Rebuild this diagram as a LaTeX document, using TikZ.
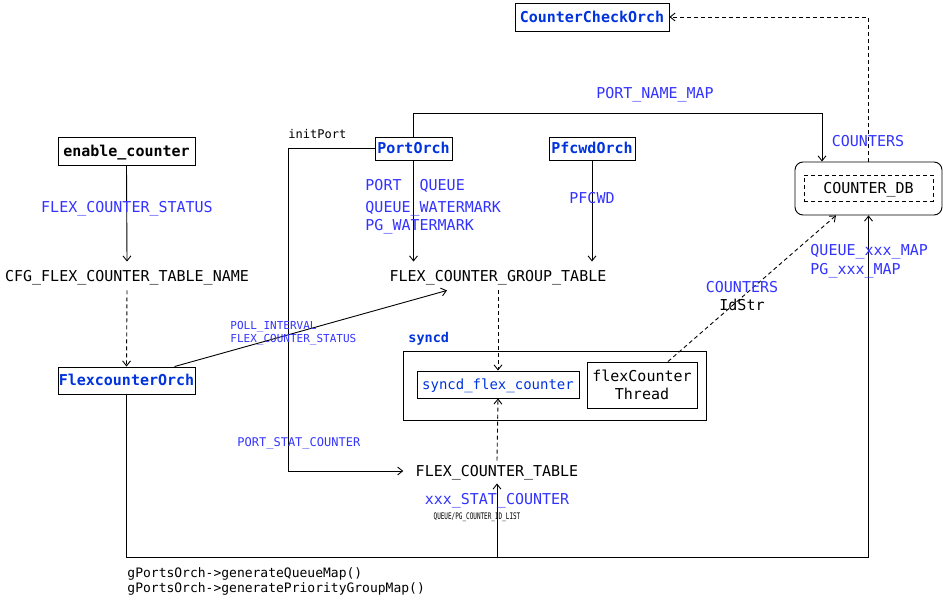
\documentclass[tikz,border=0pt]{standalone}
\usepackage{fontspec}
\usepackage{graphicx}
\setmainfont{DejaVu Sans Mono}
\usetikzlibrary{arrows.meta}
\definecolor{lblue}{RGB}{51,51,255}
\definecolor{nblue}{RGB}{0,51,221}
\begin{document}
\begin{tikzpicture}[x=1pt,y=-1pt,line width=0.9pt,
  fs/.style={font=\fontsize{#1}{#1}\selectfont,text height=0.73*#1pt,text depth=0pt},
  arr/.style={-{Straight Barb[length=5pt,width=8pt,line width=0.9pt]}},
  obox/.style={draw,inner sep=0pt,align=center},
  bbox/.style={obox,fs=15,font=\fontsize{15}{17}\selectfont\bfseries,text=nblue},
  tbl/.style={inner sep=0pt,fs=15},
  lbl/.style={inner sep=0pt,fs=15,text=lblue},
  slbl/.style={inner sep=0pt,text=lblue},
  dsh/.style={dashed,dash pattern=on 4pt off 3pt}]
\useasboundingbox (0,0) rectangle (943,601);
% boxes
\node[bbox,minimum width=154pt,minimum height=28pt] (cco) at (592,17) {CounterCheckOrch};
\node[obox,fs=15,font=\fontsize{15}{17}\selectfont\bfseries,minimum width=137pt,minimum height=28pt] (ec) at (126.5,151) {enable\_counter};
\node[bbox,minimum width=137pt,minimum height=27pt] (fco) at (126.5,380.5) {FlexcounterOrch};
\node[bbox,minimum width=77pt,minimum height=23pt] (po) at (413.5,148.5) {PortOrch};
\node[bbox,minimum width=86pt,minimum height=23pt] (pw) at (592,148.5) {PfcwdOrch};
\node[draw,rounded corners=8pt,minimum width=147pt,minimum height=53pt] (cdb) at (868.5,188.5) {};
\node[draw,dsh,inner sep=0pt,minimum width=129pt,minimum height=26pt,fs=15] (cdbi) at (868.5,188) {COUNTER\_DB};
\node[draw,minimum width=303pt,minimum height=69pt] (sy) at (554.5,385.5) {};
\node[obox,fs=14,text=nblue,minimum width=162pt,minimum height=27pt] (sfc) at (498,384.5) {syncd\_flex\_counter};
\node[obox,font=\fontsize{15}{18}\selectfont,minimum width=110pt,minimum height=46pt] (fct) at (642,385) {flexCounter\\Thread};
% tables
\node[tbl,minimum height=28pt] (cfg) at (127,276) {CFG\_FLEX\_COUNTER\_TABLE\_NAME};
\node[tbl,minimum height=28pt] (fcgt) at (498,276) {FLEX\_COUNTER\_GROUP\_TABLE};
\node[tbl,inner xsep=12pt,minimum height=24pt] (fctab) at (497,471) {FLEX\_COUNTER\_TABLE};
% connectors
\draw[arr] (ec.south) -- (cfg.north);
\draw[arr,dsh] (cfg.south) -- (fco.north);
\draw[arr] ([xshift=48pt]fco.north) -- ([xshift=-51pt]fcgt.south);
\draw[arr] (po.north) -- ++(0,-23) -| ([xshift=-46.5pt]cdb.north);
\draw[arr] (po.west) -- ++(-86,0) |- (fctab.west);
\draw[arr] (po.south) -- (po.south |- fcgt.north);
\draw[arr] (pw.south) -- (pw.south |- fcgt.north);
\draw[arr,dsh] (fcgt.south) -- (sfc.north);
\draw[arr,dsh] ([yshift=-2pt]fctab.north) -- (sfc.south);
\coordinate (bot) at (498,557);
\draw[arr] (fco.south) |- (cdb.south |- bot) -- (cdb.south);
\draw[arr] (fctab.south |- bot) -- (fctab.south);
\draw[arr,dsh] ([xshift=26pt]fct.north) -- ([xshift=-32.5pt]cdb.south);
\draw[arr,dsh] (cdb.north) |- (cco.east);
% labels
\node[lbl] (l1) at (655,93) {PORT\_NAME\_MAP};
\node[lbl] (l2) at (868,141) {COUNTERS};
\node[lbl] (l3) at (127,207) {FLEX\_COUNTER\_STATUS};
\node[lbl,anchor=west] (l4) at (365,185) {PORT\ \ QUEUE};
\node[lbl,anchor=west] (l5) at (365,207) {QUEUE\_WATERMARK};
\node[lbl,anchor=west] (l6) at (365,225) {PG\_WATERMARK};
\node[lbl] (l7) at (592,198) {PFCWD};
\node[lbl,anchor=west] (l8) at (810,250) {QUEUE\_xxx\_MAP};
\node[lbl,anchor=west] (l9) at (810,269) {PG\_xxx\_MAP};
\node[lbl] (l10) at (742,287) {COUNTERS};
\node[tbl] (l11) at (742,305) {IdStr};
\node[slbl,fs=11,anchor=west] (l12) at (230,325) {POLL\_INTERVAL};
\node[slbl,fs=11,anchor=west] (l13) at (230,338) {FLEX\_COUNTER\_STATUS};
\node[slbl,fs=12,anchor=west] (l14) at (237,442) {PORT\_STAT\_COUNTER};
\node[inner sep=0pt,fs=12,anchor=west] (l15) at (288,134) {initPort};
\node[inner sep=0pt,anchor=west,fs=13.5,font=\fontsize{13.5}{15}\selectfont\bfseries,text=nblue] (l16) at (408,338) {syncd};
\node[lbl] (l17) at (497,499) {xxx\_STAT\_COUNTER};
\node[inner sep=0pt,font=\fontsize{6}{6}\selectfont] (l18) at (477,517) {\scalebox{1}[1.5]{QUEUE/PG\_COUNTER\_ID\_LIST}};
\node[inner sep=0pt,fs=13,anchor=west] (l19) at (127,573) {gPortsOrch->generateQueueMap()};
\node[inner sep=0pt,fs=13,anchor=west] (l20) at (127,588) {gPortsOrch->generatePriorityGroupMap()};
\end{tikzpicture}
\end{document}
